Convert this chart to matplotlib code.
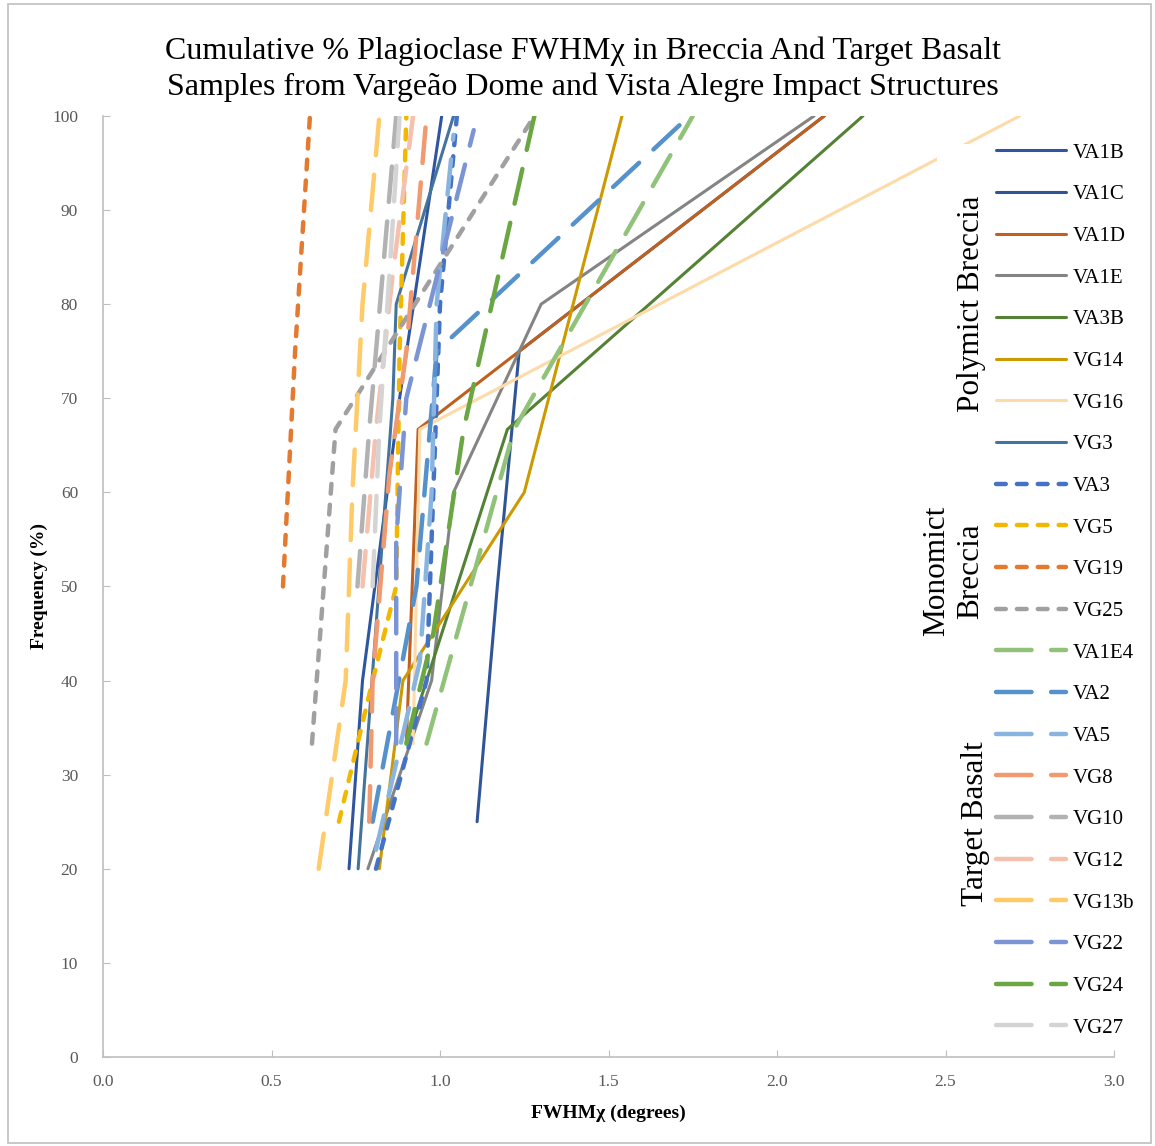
import matplotlib
matplotlib.use("Agg")
import matplotlib.pyplot as plt
from matplotlib.patches import Rectangle

plt.rcParams["font.family"] = ["Liberation Serif", "DejaVu Serif"]

# cumulative FWHM (degrees) vs frequency (%) per sample
# Polymict breccia
VA1B_x = [0.73, 0.77, 0.88, 1.005]
VA1B_y = [20, 40, 70, 100]
VA1C_x = [1.11, 1.17, 1.235, 2.14]
VA1C_y = [25, 50, 75, 100]
VA1D_x = [0.90, 0.935, 2.14]
VA1D_y = [33.3, 66.7, 100]
VA1E_x = [0.786, 0.975, 1.04, 1.30, 2.11]
VA1E_y = [20, 40, 60, 80, 100]
VA3B_x = [0.90, 1.20, 2.255]
VA3B_y = [33.3, 66.7, 100]
VG14_x = [0.82, 0.89, 1.25, 1.54]
VG14_y = [20, 40, 60, 100]
VG16_x = [0.92, 0.94, 2.72]
VG16_y = [33.3, 66.7, 100]
VG3_x = [0.757, 0.86, 0.87, 1.04]
VG3_y = [20, 70, 80, 100]

# Monomict breccia
VA3_x = [0.81, 0.96, 0.98, 1.0, 1.05]
VA3_y = [20, 40, 60, 80, 100]
VG5_x = [0.70, 0.80, 0.87, 0.88, 0.90]
VG5_y = [25, 40, 50, 75, 100]
VG19_x = [0.534, 0.57, 0.614]
VG19_y = [50, 75, 100]
VG25_x = [0.62, 0.69, 1.28]
VG25_y = [33.3, 66.7, 100]

# Target basalt
VA1E4_x = [0.96, 1.22, 1.75]
VA1E4_y = [33.3, 66.7, 100]
VA2_x = [0.80, 0.93, 0.99, 1.74]
VA2_y = [25, 50, 75, 100]
VA5_x = [0.81, 0.94, 0.975, 0.99, 1.04]
VA5_y = [22, 42, 60, 80, 98]
VG8_x = [0.79, 0.80, 0.85, 0.90, 0.96]
VG8_y = [25, 40, 62, 75, 100]
VG10_x = [0.755, 0.79, 0.83, 0.87]
VG10_y = [50, 66.7, 83.3, 100]
VG12_x = [0.77, 0.81, 0.86, 0.92]
VG12_y = [50, 66.7, 83.3, 100]
VG13b_x = [0.64, 0.72, 0.74, 0.77, 0.82]
VG13b_y = [20, 40, 60, 80, 100]
VG22_x = [0.87, 0.87, 0.90, 1.10]
VG22_y = [33.3, 55, 70, 98.5]
VG24_x = [0.90, 0.98, 1.07, 1.28]
VG24_y = [33.3, 45, 66.7, 100]
VG27_x = [0.80, 0.82, 0.85, 0.88]
VG27_y = [50, 66.7, 83.3, 100]

solid = dict(lw=2.2, ls="-")
mono = dict(lw=3.2, dashes=(2.2, 2.5), dash_capstyle="round")
basalt = dict(lw=3.2, dashes=(8, 4.4), dash_capstyle="round")

series = [
    ("VA1B", VA1B_x, VA1B_y, "#2F55A0", solid),
    ("VA1C", VA1C_x, VA1C_y, "#2F5597", solid),
    ("VA1D", VA1D_x, VA1D_y, "#C0601F", solid),
    ("VA1E", VA1E_x, VA1E_y, "#848484", solid),
    ("VA3B", VA3B_x, VA3B_y, "#548235", solid),
    ("VG14", VG14_x, VG14_y, "#CC9900", solid),
    ("VG16", VG16_x, VG16_y, "#FDDBA8", solid),
    ("VG3", VG3_x, VG3_y, "#44749D", solid),
    ("VA3", VA3_x, VA3_y, "#4472C4", mono),
    ("VG5", VG5_x, VG5_y, "#F2B800", mono),
    ("VG19", VG19_x, VG19_y, "#E37A30", mono),
    ("VG25", VG25_x, VG25_y, "#A0A0A0", mono),
    ("VA1E4", VA1E4_x, VA1E4_y, "#91C27A", basalt),
    ("VA2", VA2_x, VA2_y, "#5592CB", basalt),
    ("VA5", VA5_x, VA5_y, "#8AB4E0", basalt),
    ("VG8", VG8_x, VG8_y, "#F1996F", basalt),
    ("VG10", VG10_x, VG10_y, "#B2B2B2", basalt),
    ("VG12", VG12_x, VG12_y, "#F5C0AE", basalt),
    ("VG13b", VG13b_x, VG13b_y, "#FFCA68", basalt),
    ("VG22", VG22_x, VG22_y, "#7B94D3", basalt),
    ("VG24", VG24_x, VG24_y, "#6AA743", basalt),
    ("VG27", VG27_x, VG27_y, "#D4D4D4", basalt),
]

fig = plt.figure(figsize=(11.55, 11.46), dpi=100)
ax = fig.add_axes([0.0892, 0.0777, 0.8753, 0.8211])

for name, xs, ys, col, st in series:
    ax.plot(xs, ys, color=col, label=name, solid_capstyle="round", zorder=2, **st)

ax.set_xlim(0, 3)
ax.set_ylim(0, 100)
ax.set_xticks([0, 0.5, 1.0, 1.5, 2.0, 2.5, 3.0])
ax.set_xticklabels(["0.0", "0.5", "1.0", "1.5", "2.0", "2.5", "3.0"])
ax.set_yticks(range(0, 101, 10))
for s in ["top", "right"]:
    ax.spines[s].set_visible(False)
for s in ["left", "bottom"]:
    ax.spines[s].set_color("#BFBFBF")
    ax.spines[s].set_linewidth(1.2)
ax.tick_params(axis="y", direction="in", length=5, color="#BFBFBF",
               labelsize=12.5, labelcolor="#595959", pad=18)
ax.tick_params(axis="x", direction="in", length=5, color="#BFBFBF",
               labelsize=12.5, labelcolor="#595959", pad=12)

ax.set_xlabel("FWHMχ (degrees)", fontsize=14, fontweight="bold", labelpad=11)
ax.set_ylabel("Frequency (%)", fontsize=14, fontweight="bold", labelpad=3)

fig.text(0.505, 0.9395, "Cumulative % Plagioclase FWHMχ in Breccia And Target Basalt\n"
         "Samples from Vargeão Dome and Vista Alegre Impact Structures",
         ha="center", va="center", fontsize=23, linespacing=1.27)

# white box behind the legend hides the lines there
ax.add_artist(Rectangle((937 / 1155, 0.085), 0.2, 0.789, transform=fig.transFigure,
                        facecolor="white", edgecolor="none", zorder=3, clip_on=False))

leg = ax.legend(loc="upper left", bbox_to_anchor=(996 / 1155, 1 - 143 / 1146),
                bbox_transform=fig.transFigure, frameon=False, fontsize=15,
                handlelength=3.35, handletextpad=0.35, labelspacing=1.06,
                borderpad=0, borderaxespad=0)
leg.set_zorder(5)

fig.text(0.8415, 0.735, "Polymict Breccia", rotation=90, ha="center", va="center", fontsize=22.5)
fig.text(0.8255, 0.502, "Monomict\nBreccia", rotation=90, ha="center", va="center",
         fontsize=22.5, linespacing=1.2)
fig.text(0.8445, 0.281, "Target Basalt", rotation=90, ha="center", va="center", fontsize=22.5)

fig.add_artist(Rectangle((8 / 1155, 3 / 1146), 1143 / 1155, 1139 / 1146,
                         transform=fig.transFigure, facecolor="none",
                         edgecolor="#BFBFBF", lw=1.2))

fig.savefig("out.png", dpi=100, facecolor="white")
